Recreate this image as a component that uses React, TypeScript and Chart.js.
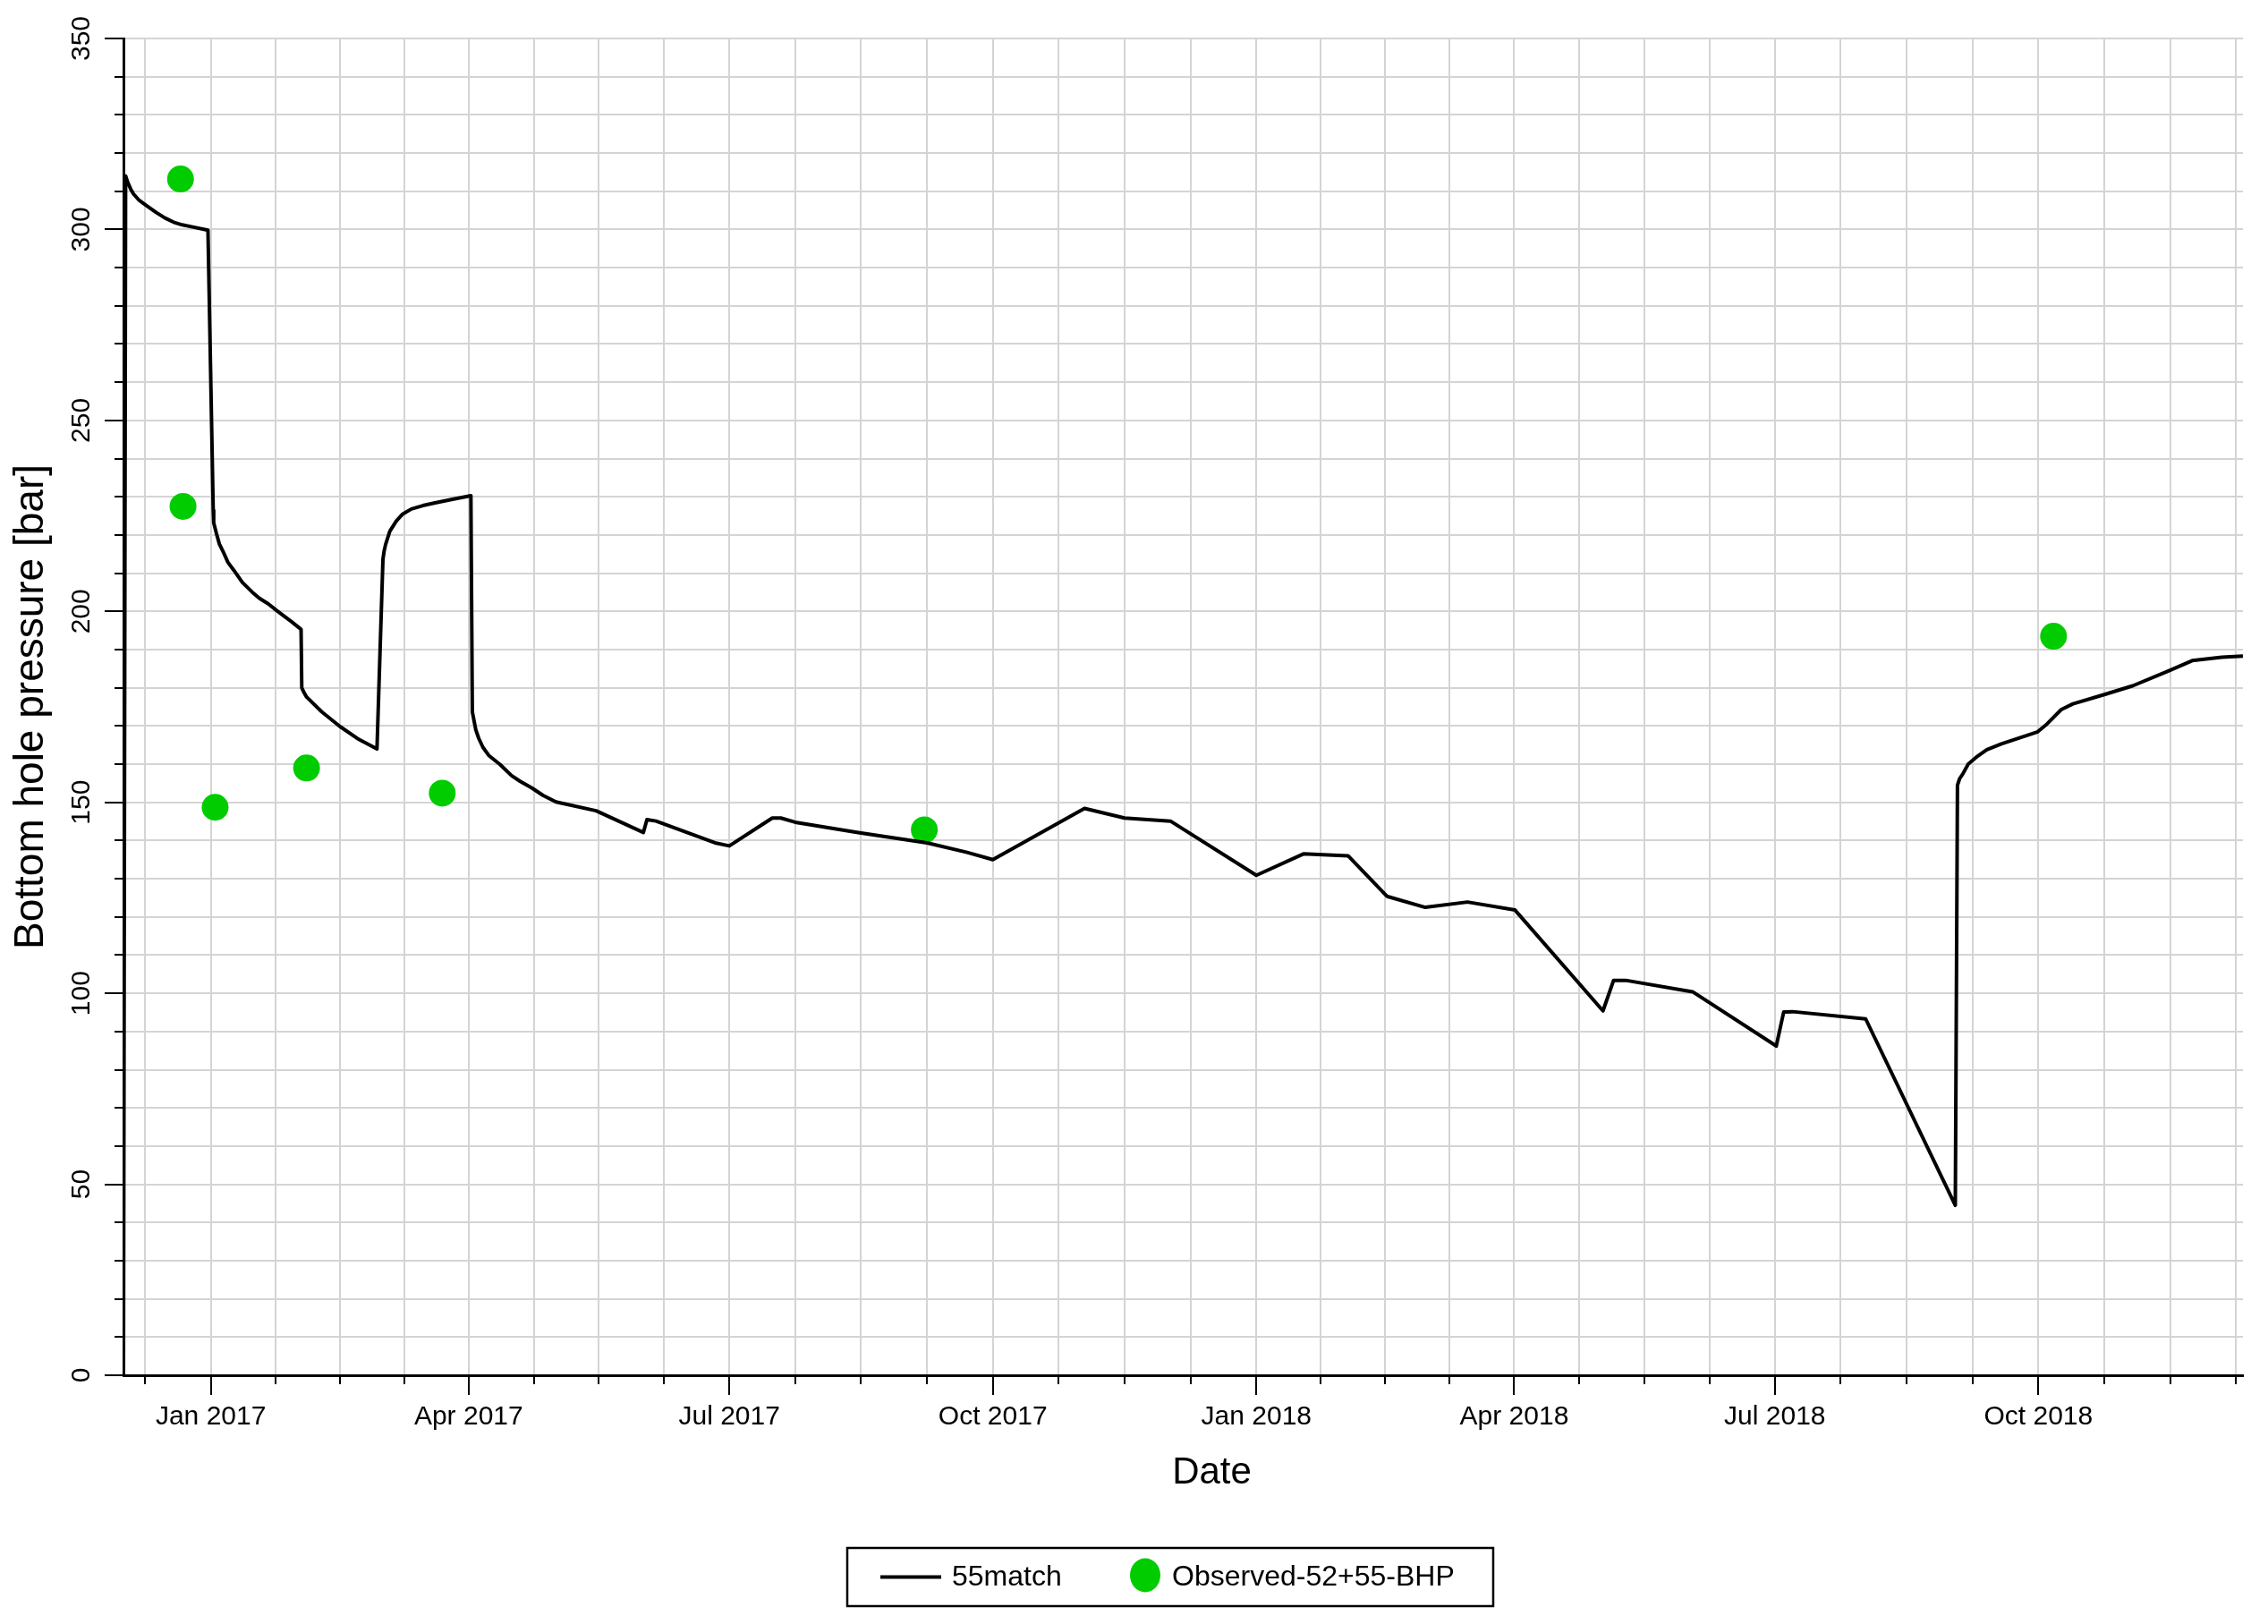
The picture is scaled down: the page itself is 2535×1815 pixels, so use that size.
import React, { useEffect, useRef } from "react";
import { Chart, registerables } from "chart.js";

Chart.register(...registerables);

// ---------------- data ----------------
const seriesNames = ["55match", "Observed-52+55-BHP"];
const xAxisTitle = "Date";
const yAxisTitle = "Bottom hole pressure [bar]";
const monthNames = ["Jan", "Feb", "Mar", "Apr", "May", "Jun", "Jul", "Aug", "Sep", "Oct", "Nov", "Dec"];

const simDates = [
  "2016-12-01T12:00", "2016-12-02T06:00", "2016-12-03", "2016-12-04", "2016-12-05",
  "2016-12-07", "2016-12-10", "2016-12-13", "2016-12-16", "2016-12-19",
  "2016-12-22", "2016-12-26", "2016-12-31", "2017-01-01T20:00", "2017-01-02",
  "2017-01-03", "2017-01-04", "2017-01-05T12:00", "2017-01-07", "2017-01-09",
  "2017-01-12", "2017-01-15T12:00", "2017-01-18", "2017-01-21", "2017-01-24",
  "2017-01-27", "2017-01-29", "2017-02-01T12:00", "2017-02-01T18:00", "2017-02-02T12:00",
  "2017-02-03T10:00", "2017-02-08T17:00", "2017-02-15", "2017-02-21T05:00", "2017-02-28",
  "2017-03-02T02:00", "2017-03-02T12:00", "2017-03-03", "2017-03-04T12:00", "2017-03-06T19:00",
  "2017-03-09", "2017-03-12", "2017-03-16", "2017-03-20T07:00", "2017-03-26",
  "2017-04-01T19:00", "2017-04-02T07:00", "2017-04-03T12:00", "2017-04-04T12:00", "2017-04-06",
  "2017-04-08", "2017-04-12", "2017-04-16", "2017-04-19", "2017-04-23",
  "2017-04-27", "2017-05-01T12:00", "2017-05-15T12:00", "2017-06-01", "2017-06-02T06:00",
  "2017-06-05T10:00", "2017-06-26", "2017-07-01", "2017-07-16", "2017-07-19",
  "2017-07-24", "2017-08-15", "2017-09-08", "2017-09-22", "2017-10-01",
  "2017-11-02", "2017-11-16", "2017-12-02", "2018-01-01", "2018-01-17T10:00",
  "2018-02-02", "2018-02-15T14:00", "2018-03-01", "2018-03-15T17:00", "2018-04-01T07:00",
  "2018-05-02", "2018-05-05T17:00", "2018-05-09T22:00", "2018-06-02T07:00", "2018-07-01T12:00",
  "2018-07-04T02:00", "2018-07-07T05:00", "2018-08-01T17:00", "2018-09-02T00:00", "2018-09-02T18:00",
  "2018-09-03T12:00", "2018-09-04T14:00", "2018-09-06T12:00", "2018-09-09T19:00", "2018-09-13",
  "2018-09-18T02:00", "2018-09-30T14:00", "2018-10-04", "2018-10-09", "2018-10-13T02:00",
  "2018-10-23T12:00", "2018-11-02T22:00", "2018-11-15T10:00", "2018-11-23T17:00", "2018-12-04T02:00",
  "2018-12-11T10:00",
];
const simValues = [
  0, 314.0, 312.3, 310.6, 309.3,
  307.6, 306.0, 304.4, 303.0, 301.9,
  301.2, 300.6, 299.8, 226.5, 223.2,
  220.3, 217.6, 215.3, 212.8, 210.8,
  207.6, 205.0, 203.4, 202.0, 200.2,
  198.5, 197.4, 195.3, 180.0, 178.8,
  177.6, 173.7, 169.9, 166.7, 164.0,
  213.6, 215.8, 217.5, 221.0, 223.7,
  225.5, 226.8, 227.7, 228.4, 229.3,
  230.3, 173.7, 169.0, 166.8, 164.4,
  162.3, 159.9, 157.0, 155.5, 153.8,
  151.8, 150.1, 147.8, 142.1, 145.5,
  145.1, 139.4, 138.6, 145.9, 145.9,
  144.8, 142.1, 139.4, 136.9, 135.0,
  148.4, 145.9, 145.1, 130.9, 136.5,
  136.0, 125.4, 122.5, 123.9, 121.8,
  95.4, 103.4, 103.4, 100.4, 86.2,
  95.1, 95.2, 93.3, 44.5, 154.5,
  156.2, 157.4, 160.0, 162.1, 163.8,
  165.3, 168.4, 170.5, 174.3, 175.8,
  178.1, 180.5, 184.4, 187.1, 188.0,
  188.3,
];

const obsDates = [
  "2016-12-21T10:00", "2016-12-22T07:00", "2017-01-02T12:00", "2017-02-03T10:00",
  "2017-03-22T19:00", "2017-09-07T02:00", "2018-10-06T07:00",
];
const obsValues = [313.2, 227.5, 148.7, 159.0, 152.4, 142.8, 193.5];

const yMin = 0;
const yMax = 350;
const yMinorStep = 10;
const yMajorStep = 50;

// ---------------- helpers ----------------
const toMs = (s: string) => Date.parse(s.length === 10 ? s + "T00:00:00Z" : s + ":00Z");
const FONT = '"Liberation Sans", Arial, Helvetica, sans-serif';
const W = 2535;
const H = 1815;

const quarterTicks = (scale: any) => {
  const ticks: any[] = [];
  for (let y = 2016; y <= 2019; y++) {
    for (let q = 0; q < 4; q++) {
      const s = Date.UTC(y, q * 3, 1);
      const e = Date.UTC(y, q * 3 + 3, 1);
      for (let k = 0; k < 4; k++) {
        const v = s + ((e - s) * k) / 4;
        if (v >= scale.min && v <= scale.max) ticks.push({ value: v, major: k === 0 });
      }
    }
  }
  scale.ticks = ticks;
};

const yTicks = (scale: any) => {
  const ticks: any[] = [];
  for (let v = yMin; v <= yMax; v += yMinorStep) ticks.push({ value: v, major: v % yMajorStep === 0 });
  scale.ticks = ticks;
};

const decorPlugin = {
  id: "decor",
  afterDraw(chart: any) {
    const ctx = chart.ctx as CanvasRenderingContext2D;
    const xs = chart.scales.x;
    const ys = chart.scales.y;
    const { left, right, bottom } = chart.chartArea;
    ctx.save();
    // tick marks
    ctx.strokeStyle = "#000";
    ctx.lineWidth = 2;
    ctx.beginPath();
    xs.ticks.forEach((t: any) => {
      const px = Math.round(xs.getPixelForValue(t.value));
      const len = t.major ? 22 : 10;
      ctx.moveTo(px, bottom);
      ctx.lineTo(px, bottom + len);
    });
    ys.ticks.forEach((t: any) => {
      const py = Math.round(ys.getPixelForValue(t.value));
      const len = t.major ? 21 : 10;
      ctx.moveTo(left, py);
      ctx.lineTo(left - len, py);
    });
    ctx.stroke();

    // rotated y tick labels
    ctx.fillStyle = "#000";
    ctx.font = `30px ${FONT}`;
    ctx.textAlign = "center";
    ctx.textBaseline = "alphabetic";
    ys.ticks.forEach((t: any) => {
      if (!t.major) return;
      const py = ys.getPixelForValue(t.value);
      ctx.save();
      ctx.translate(left - 38, py);
      ctx.rotate(-Math.PI / 2);
      ctx.fillText(String(t.value), 0, 0);
      ctx.restore();
    });

    // x axis title
    ctx.font = `42px ${FONT}`;
    ctx.textAlign = "center";
    ctx.textBaseline = "middle";
    ctx.fillText(xAxisTitle, (left + right) / 2 + 32, bottom + 109);

    // legend box
    const bx = 947, by = 1730, bw = 722, bh = 65;
    const cy = by + bh / 2;
    ctx.lineWidth = 2.5;
    ctx.strokeRect(bx, by, bw, bh);
    ctx.lineWidth = 4;
    ctx.beginPath();
    ctx.moveTo(984, cy);
    ctx.lineTo(1052, cy);
    ctx.stroke();
    ctx.font = `32px ${FONT}`;
    ctx.textAlign = "left";
    ctx.textBaseline = "middle";
    ctx.fillText(seriesNames[0], 1064, cy + 1);
    ctx.fillStyle = "#00cc00";
    ctx.beginPath();
    ctx.ellipse(1280, cy - 2, 17, 19, 0, 0, Math.PI * 2);
    ctx.fill();
    ctx.fillStyle = "#000";
    ctx.fillText(seriesNames[1], 1310, cy + 1);
    ctx.restore();
  },
};

export default function App() {
  const ref = useRef<HTMLCanvasElement>(null);

  useEffect(() => {
    document.body.style.margin = "0";
    const canvas = ref.current;
    if (!canvas) return;

    const lineData = simDates.map((d, i) => ({ x: toMs(d), y: simValues[i] }));
    const obsData = obsDates.map((d, i) => ({ x: toMs(d), y: obsValues[i] }));

    const chart = new Chart(canvas, {
      type: "scatter",
      data: {
        datasets: [
          {
            label: seriesNames[0],
            data: lineData,
            showLine: true,
            borderColor: "#000",
            backgroundColor: "#000",
            borderWidth: 4,
            borderJoinStyle: "round",
            pointRadius: 0,
            pointHoverRadius: 0,
            tension: 0,
            fill: false,
            order: 0,
          } as any,
          {
            label: seriesNames[1],
            data: obsData,
            showLine: false,
            backgroundColor: "#00cc00",
            borderColor: "#00cc00",
            borderWidth: 0,
            pointRadius: 15,
            pointHoverRadius: 15,
            order: 1,
          } as any,
        ],
      },
      options: {
        responsive: false,
        animation: false,
        devicePixelRatio: 1,
        events: [],
        layout: { padding: { left: 0, right: 28, top: 43, bottom: 146 } },
        plugins: {
          legend: { display: false },
          tooltip: { enabled: false },
        },
        scales: {
          x: {
            type: "linear",
            position: "bottom",
            min: toMs(simDates[0]),
            max: toMs(simDates[simDates.length - 1]),
            afterBuildTicks: quarterTicks,
            afterFit: (s: any) => {
              s.height = 132;
            },
            grid: { color: "#d4d4d4", lineWidth: 2, drawTicks: false },
            border: { display: true, color: "#000", width: 3 },
            ticks: {
              autoSkip: false,
              maxRotation: 0,
              minRotation: 0,
              padding: 29,
              color: "#000",
              font: { family: FONT, size: 30 },
              callback: (value: any, index: number, ticks: any[]) => {
                if (!ticks[index] || !ticks[index].major) return "";
                const d = new Date(Number(value));
                return `${monthNames[d.getUTCMonth()]} ${d.getUTCFullYear()}`;
              },
            },
            title: { display: false },
          },
          y: {
            type: "linear",
            position: "left",
            min: yMin,
            max: yMax,
            afterBuildTicks: yTicks,
            afterFit: (s: any) => {
              s.width = 138;
            },
            grid: { color: "#d4d4d4", lineWidth: 2, drawTicks: false },
            border: { display: true, color: "#000", width: 3 },
            ticks: { display: false },
            title: {
              display: true,
              text: yAxisTitle,
              color: "#000",
              font: { family: FONT, size: 46 },
              padding: { top: 8, bottom: 0 },
            },
          },
        },
      } as any,
      plugins: [decorPlugin],
    });

    return () => chart.destroy();
  }, []);

  return (
    <div style={{ width: W, height: H, background: "#fff" }}>
      <canvas ref={ref} width={W} height={H} style={{ display: "block", width: W, height: H }} />
    </div>
  );
}
